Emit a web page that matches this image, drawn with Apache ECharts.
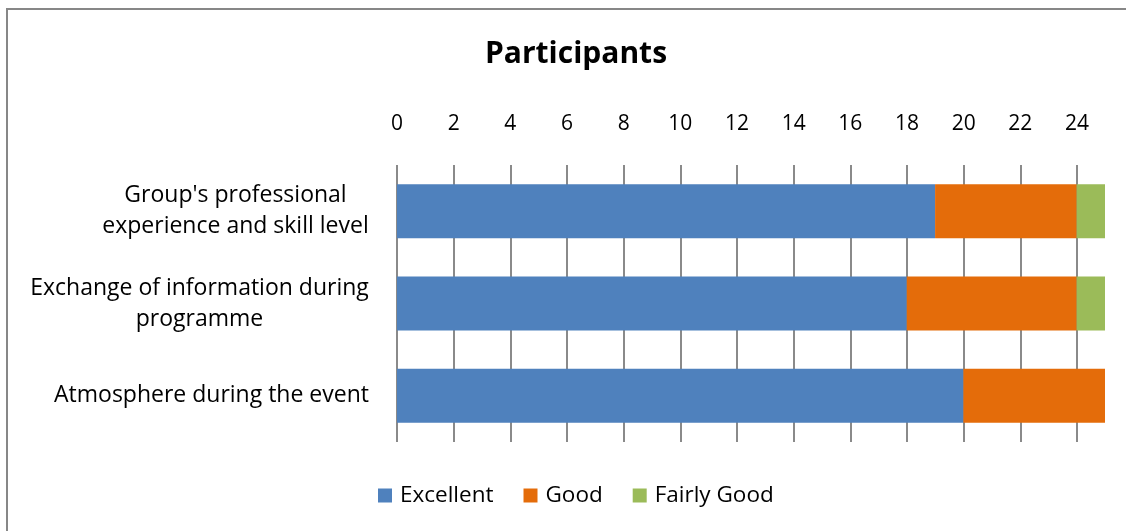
<!DOCTYPE html>
<html lang="en">
<head>
    <meta charset="UTF-8">
    <title>Participants</title>
    <script src="https://cdn.jsdelivr.net/npm/echarts@6/dist/echarts.min.js"></script>
    <style>
        html, body { margin: 0; padding: 0; background: #fff; }
    </style>
</head>
<body>
<div id="main" style="width: 1126px;height:531px;"></div>
<script type="text/javascript">
// data
var categories = [
    "Group's professional\nexperience and skill level",
    "Exchange of information during\nprogramme",
    "Atmosphere during the event"
];
var excellent = [19, 18, 20];
var good = [5, 6, 5];
var fairlyGood = [1, 1, 0];
var tickMax = 24;   // last labelled tick
var axisMax = 25;   // bars run to here

var FONT = '"Open Sans", "Noto Sans", sans-serif';
var LABEL_SIZE = 23;

// widest line of each label, so the lines can be centred inside a right aligned block
var cvs = document.createElement('canvas').getContext('2d');
cvs.font = LABEL_SIZE + 'px ' + FONT;
var rich = {};
categories.forEach(function (c, i) {
    var w = 0;
    c.split('\n').forEach(function (l) { w = Math.max(w, cvs.measureText(l).width); });
    rich['c' + i] = { width: Math.ceil(w) + 2, align: 'center', fontSize: LABEL_SIZE, fontFamily: FONT, color: '#000', lineHeight: 31 };
});

var myChart = echarts.init(document.getElementById('main'));
var option = {
    animation: false,
    textStyle: { fontFamily: FONT },
    title: {
        text: 'Participants',
        left: 571,
        textAlign: 'center',
        top: 34,
        textStyle: { fontSize: 30, fontWeight: 'bold', color: '#000', fontFamily: FONT }
    },
    graphic: [{
        type: 'rect',
        shape: { x: 7, y: 9, width: 1200, height: 600 },
        style: { fill: 'none', stroke: '#878787', lineWidth: 2 },
        silent: true
    }],
    legend: {
        bottom: 19,
        left: 373,
        itemWidth: 14,
        itemHeight: 14,
        itemGap: 30,
        icon: 'rect',
        textStyle: { fontSize: 22.5, color: '#000', fontFamily: FONT, padding: [0, 0, 0, 3] },
        data: ['Excellent', 'Good', 'Fairly Good']
    },
    grid: [
        { left: 397, right: 21, top: 165, bottom: 89, containLabel: false },
        { left: 397, width: 680, top: 165, bottom: 89, containLabel: false }
    ],
    xAxis: [
        {
            gridIndex: 0, type: 'value', min: 0, max: axisMax,
            axisLine: { show: false }, axisTick: { show: false },
            axisLabel: { show: false }, splitLine: { show: false }
        },
        {
            gridIndex: 1, type: 'value', position: 'top', min: 0, max: tickMax, interval: 2,
            axisLine: { show: false }, axisTick: { show: false },
            axisLabel: { fontSize: 21, color: '#000', margin: 30, fontFamily: FONT },
            splitLine: { show: true, lineStyle: { color: '#8a8a8a', width: 2 } }
        }
    ],
    yAxis: [
        {
            gridIndex: 0, type: 'category', data: categories, inverse: true,
            axisLine: { show: false }, axisTick: { show: false },
            axisLabel: {
                margin: 27,
                formatter: function (v, i) {
                    return v.split('\n').map(function (l) { return '{c' + i + '|' + l + '}'; }).join('\n');
                },
                rich: rich
            }
        },
        {
            gridIndex: 1, type: 'category', data: categories, inverse: true, show: false
        }
    ],
    series: [
        {
            name: 'Excellent', type: 'bar', stack: 'all', data: excellent,
            barWidth: '58.5%', itemStyle: { color: '#4F81BD' }
        },
        {
            name: 'Good', type: 'bar', stack: 'all', data: good,
            itemStyle: { color: '#E46C0A' }
        },
        {
            name: 'Fairly Good', type: 'bar', stack: 'all', data: fairlyGood,
            itemStyle: { color: '#9BBB59' }
        }
    ]
};
myChart.setOption(option);
</script>
</body>
</html>
